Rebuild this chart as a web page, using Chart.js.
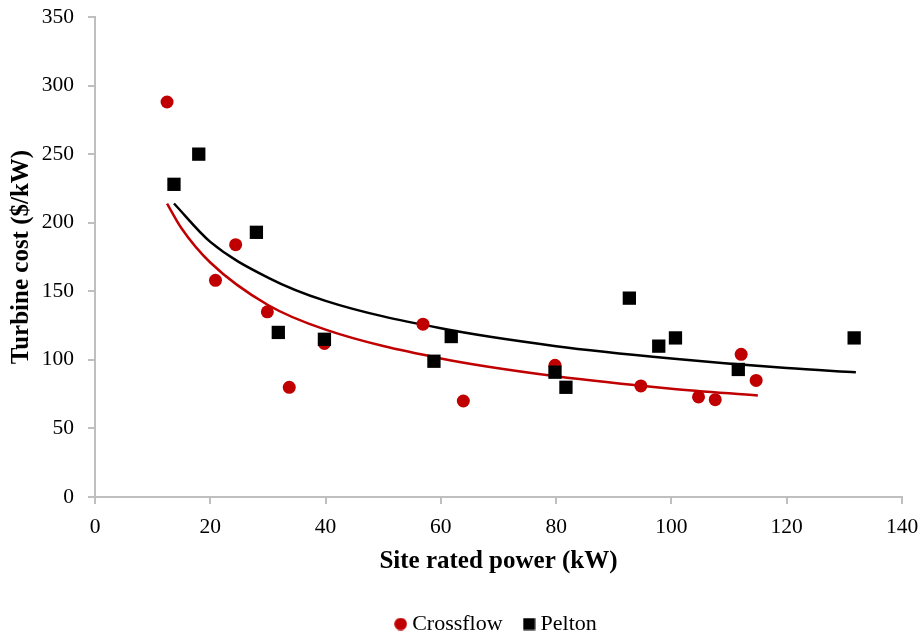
<!DOCTYPE html>
<html>
<head>
<meta charset="utf-8">
<script src="https://cdn.jsdelivr.net/npm/chart.js@4.4.1/dist/chart.umd.min.js"></script>
<style>
  body { margin: 0; background: #fff; }
  #wrap { width: 921px; height: 635px; }
</style>
</head>
<body>
<div id="wrap"><canvas id="chart"></canvas></div>
<script>
// Scatter data (kW, $/kW)
const crossflowX = [12.5, 20.9, 24.4, 29.9, 33.7, 39.8, 56.9, 63.9, 79.8, 94.7, 104.7, 107.6, 112.1, 114.7];
const crossflowY = [288, 158, 184, 135, 80, 112, 126, 70, 96, 81, 73, 71, 104, 85];
const peltonX = [13.7, 18, 28, 31.8, 39.8, 58.8, 61.8, 79.8, 81.7, 92.7, 97.8, 100.7, 111.6, 131.7];
const peltonY = [228, 250, 193, 120, 115, 99, 117, 91, 80, 145, 110, 116, 93, 116];

// Trend lines (power fit)
const crossTrendX = [12.5, 15, 20, 30, 40, 60, 80, 100, 115];
const crossTrendY = [214, 196, 171, 140, 122, 101, 88, 79, 74];
const peltonTrendX = [13.7, 20, 30, 40, 60, 80, 100, 120, 132];
const peltonTrendY = [214, 186, 160, 143, 123, 110, 101, 94, 91];

const xTicks = { min: 0, max: 140, step: 20 };
const yTicks = { min: 0, max: 350, step: 50 };

const pts = (xs, ys) => xs.map((x, i) => ({ x: x, y: ys[i] }));

const serif = "'Liberation Serif', 'Times New Roman', serif";
const axisGrey = '#bfbfbf';
const red = '#c00000';

// small legend markers
function icon(draw) {
    const c = document.createElement('canvas');
    c.width = 13; c.height = 13;
    draw(c.getContext('2d'));
    return c;
}
const dotIcon = icon(g => { g.fillStyle = red; g.beginPath(); g.arc(6.5, 6.5, 6.3, 0, Math.PI * 2); g.fill(); });
const squareIcon = icon(g => { g.fillStyle = '#000'; g.fillRect(0.5, 0.5, 12, 12); });

new Chart(document.getElementById('chart'), {
    type: 'scatter',
    data: {
        datasets: [{
            label: 'Crossflow',
            data: pts(crossflowX, crossflowY),
            backgroundColor: red,
            borderColor: red,
            pointStyle: 'circle',
            pointRadius: 6.5,
            pointHoverRadius: 6.5,
            borderWidth: 0,
            order: 1
        }, {
            label: 'Pelton',
            data: pts(peltonX, peltonY),
            backgroundColor: '#000',
            borderColor: '#000',
            pointStyle: 'rect',
            pointRadius: 9.4,
            pointHoverRadius: 9.4,
            borderWidth: 0,
            order: 0
        }, {
            label: 'trend-crossflow',
            type: 'line',
            data: pts(crossTrendX, crossTrendY),
            borderColor: red,
            borderWidth: 2.5,
            pointRadius: 0,
            cubicInterpolationMode: 'monotone',
            fill: false,
            order: 2
        }, {
            label: 'trend-pelton',
            type: 'line',
            data: pts(peltonTrendX, peltonTrendY),
            borderColor: '#000',
            borderWidth: 2.5,
            pointRadius: 0,
            cubicInterpolationMode: 'monotone',
            fill: false,
            order: 2
        }]
    },
    options: {
        responsive: true,
        maintainAspectRatio: false,
        animation: false,
        layout: { padding: { top: 17, right: 19, left: 0, bottom: -10 } },
        plugins: {
            tooltip: { enabled: false },
            legend: {
                position: 'bottom',
                fullSize: false,
                labels: {
                    usePointStyle: true,
                    boxWidth: 1,
                    color: '#000',
                    font: { family: serif, size: 22 },
                    padding: 26,
                    generateLabels: chart => {
                        const items = Chart.defaults.plugins.legend.labels.generateLabels(chart);
                        return items
                            .filter(it => it.datasetIndex < 2)
                            .sort((a, b) => a.datasetIndex - b.datasetIndex)
                            .map(it => {
                                it.pointStyle = it.datasetIndex === 0 ? dotIcon : squareIcon;
                                it.fontColor = '#000';
                                return it;
                            });
                    }
                }
            }
        },
        scales: {
            x: {
                type: 'linear',
                min: xTicks.min,
                max: xTicks.max,
                ticks: {
                    stepSize: xTicks.step,
                    color: '#000',
                    font: { family: serif, size: 21.5 },
                    padding: 10,
                    maxRotation: 0
                },
                grid: {
                    drawOnChartArea: false,
                    drawTicks: true,
                    tickLength: 7,
                    color: axisGrey,
                    lineWidth: 2
                },
                border: { color: axisGrey, width: 2 },
                title: {
                    display: true,
                    text: 'Site rated power (kW)',
                    color: '#000',
                    font: { family: serif, size: 25, weight: 'bold' },
                    padding: { top: 0, bottom: 10 }
                },
                afterFit: s => {
                    s.height = 90;
                    s.paddingLeft = 0;
                    s.paddingRight = 0;
                }
            },
            y: {
                type: 'linear',
                min: yTicks.min,
                max: yTicks.max,
                ticks: {
                    stepSize: yTicks.step,
                    color: '#000',
                    font: { family: serif, size: 21.5 },
                    padding: 14
                },
                grid: {
                    drawOnChartArea: false,
                    drawTicks: true,
                    tickLength: 7,
                    color: axisGrey,
                    lineWidth: 2
                },
                border: { color: axisGrey, width: 2 },
                title: {
                    display: true,
                    text: 'Turbine cost ($/kW)',
                    color: '#000',
                    font: { family: serif, size: 25, weight: 'bold' },
                    padding: { top: 7, bottom: 0 }
                },
                afterFit: s => {
                    s.width = 95;
                    s.paddingTop = 0;
                    s.paddingBottom = 0;
                }
            }
        }
    }
});
</script>
</body>
</html>
